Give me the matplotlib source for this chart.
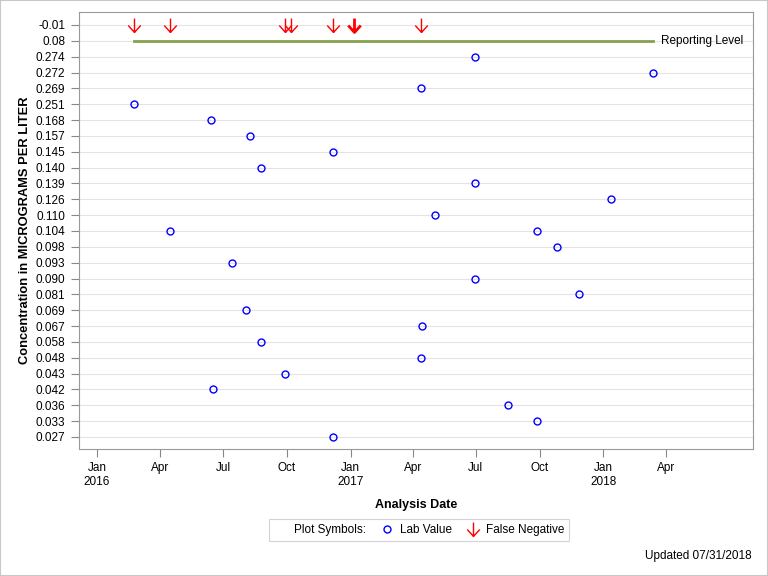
import pandas as pd
import matplotlib.pyplot as plt
from matplotlib.path import Path
from matplotlib.lines import Line2D
from matplotlib.patches import Rectangle

plt.rcParams["font.family"] = ["Liberation Sans", "DejaVu Sans"]

# y categories, top to bottom (as drawn on the axis)
levels = ["-0.01", "0.08", "0.274", "0.272", "0.269", "0.251", "0.168", "0.157",
          "0.145", "0.140", "0.139", "0.126", "0.110", "0.104", "0.098", "0.093",
          "0.090", "0.081", "0.069", "0.067", "0.058", "0.048", "0.043", "0.042",
          "0.036", "0.033", "0.027"]

# lab values
lab_dates = ["2017-06-30", "2018-03-14", "2017-04-12", "2016-02-23", "2016-06-13",
             "2016-08-09", "2016-12-07", "2016-08-25", "2017-06-30", "2018-01-12",
             "2017-05-03", "2016-04-15", "2017-09-27", "2017-10-26", "2016-07-14",
             "2017-06-30", "2017-11-27", "2016-08-03", "2017-04-14", "2016-08-25",
             "2017-04-12", "2016-09-28", "2016-06-16", "2017-08-17", "2017-09-27",
             "2016-12-07"]
lab_values = ["0.274", "0.272", "0.269", "0.251", "0.168",
              "0.157", "0.145", "0.140", "0.139", "0.126",
              "0.110", "0.104", "0.104", "0.098", "0.093",
              "0.090", "0.081", "0.069", "0.067", "0.058",
              "0.048", "0.043", "0.042", "0.036", "0.033",
              "0.027"]

# false negatives (reported at -0.01)
fn_dates = ["2016-02-23", "2016-04-15", "2016-09-28", "2016-10-07", "2016-12-07",
            "2017-01-06", "2017-01-06", "2017-04-12"]

reporting_level = "0.08"

lab = pd.DataFrame({"date": pd.to_datetime(lab_dates), "value": lab_values})
lab["y"] = lab["value"].map(levels.index)
fn = pd.Series(pd.to_datetime(fn_dates)).value_counts().sort_index()

arrow = Path([(0, 1), (0, -1), (-0.9, 0), (0, -1), (0.9, 0)],
             [Path.MOVETO, Path.LINETO, Path.MOVETO, Path.LINETO, Path.LINETO])

fig = plt.figure(figsize=(7.68, 5.76), dpi=100)
fig.patches.append(Rectangle((0, 0), 1, 1, transform=fig.transFigure,
                             fill=False, edgecolor="#c8c8c8", lw=1.5))
ax = fig.add_axes([79 / 768, 1 - 449 / 576, 674 / 768, 437 / 576])

ax.set_yticks(range(len(levels)))
ax.set_yticklabels(levels)
ax.grid(axis="y", color="#e3e3e3", lw=0.8)
ax.set_axisbelow(True)

# reporting level line
ry = levels.index(reporting_level)
ax.plot([lab["date"].min(), lab["date"].max()], [ry, ry], color="#86a04f", lw=2)
ax.text(pd.Timestamp("2018-03-25"), ry, "Reporting Level", va="center",
        ha="left", fontsize=8.5)

ax.plot(lab["date"], lab["y"], "o", ms=5, mfc="none", mec="blue", mew=1)

fy = levels.index("-0.01")
for d, n in fn.items():
    ax.plot([d], [fy], marker=arrow, ms=10, mfc="none", mec="red",
            mew=1 if n == 1 else 2, ls="none")

ax.set_xlim(pd.Timestamp("2015-12-06"), pd.Timestamp("2018-08-05"))
ax.set_ylim(26.76, -0.82)

ticks = pd.date_range("2016-01-01", "2018-04-01", freq="QS")
ax.set_xticks(ticks)
ax.set_xticklabels([t.strftime("%b") + ("\n" + t.strftime("%Y") if t.month == 1 else "")
                    for t in ticks])
ax.tick_params(labelsize=8.5, color="#888888", length=6)
ax.tick_params(axis="y", pad=4)
for s in ax.spines.values():
    s.set_color("#999999")

ax.set_xlabel("Analysis Date", fontsize=9, fontweight="bold", labelpad=8)
ax.set_ylabel("Concentration in MICROGRAMS PER LITER", fontsize=9.3,
              fontweight="bold", labelpad=3)

handles = [Line2D([], [], ls="none", label="Plot Symbols:"),
           Line2D([], [], marker="o", ms=5, mfc="none", mec="blue", ls="none",
                  label="Lab Value"),
           Line2D([], [], marker=arrow, ms=10, mfc="none", mec="red", ls="none",
                  label="False Negative")]
leg = fig.legend(handles=handles, loc="center", ncol=3,
                 bbox_to_anchor=(419 / 768, 1 - 530 / 576), fontsize=8.5,
                 frameon=True, fancybox=False, edgecolor="#c8c8c8",
                 handlelength=1.2, handletextpad=0.5, columnspacing=1.2,
                 borderpad=0.4)
leg.get_frame().set_linewidth(0.8)

fig.text(752 / 768, 1 - 556 / 576, "Updated 07/31/2018", ha="right",
         va="center", fontsize=8.5)

fig.savefig("out.png", dpi=100)
